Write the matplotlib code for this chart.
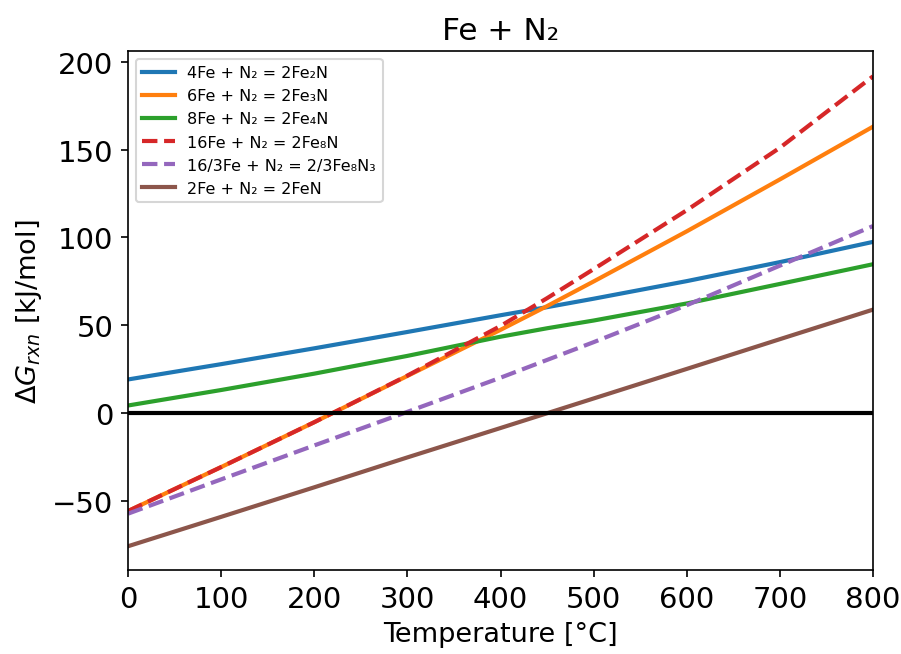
import matplotlib
matplotlib.use("Agg")
import matplotlib.pyplot as plt
import numpy as np

T = [0, 100, 200, 300, 400, 450, 500, 600, 700, 800]
fe2n = [19.3, 28.0, 37.0, 46.3, 55.8, 60.4, 65.2, 75.2, 86.0, 97.5]
fe3n = [-55.5, -30.5, -5.0, 21.3, 47.5, 61.0, 75.0, 103.5, 133.0, 163.0]
fe4n = [4.5, 13.3, 22.6, 32.7, 43.6, 48.4, 52.8, 62.5, 73.6, 84.8]
fe8n = [-55.5, -30.5, -5.0, 21.5, 49.7, 65.5, 82.0, 115.5, 151.0, 191.6]
fe8n3 = [-57.0, -37.5, -18.2, 0.9, 20.3, 30.4, 40.5, 61.5, 84.0, 106.5]
fen = [-75.5, -58.8, -42.0, -25.0, -8.3, 0.1, 8.5, 25.3, 42.2, 59.0]

labels = ["4Fe + N₂ = 2Fe₂N", "6Fe + N₂ = 2Fe₃N", "8Fe + N₂ = 2Fe₄N",
          "16Fe + N₂ = 2Fe₈N", "16/3Fe + N₂ = 2/3Fe₈N₃", "2Fe + N₂ = 2FeN"]

fig = plt.figure(figsize=(901/150, 655/150), dpi=150)
ax = fig.add_axes([128/901, 1-571/655, (873-128)/901, (571-52)/655])

ax.plot(T, fe2n, color="#1f77b4", lw=2, label=labels[0])
ax.plot(T, fe3n, color="#ff7f0e", lw=2, label=labels[1])
ax.plot(T, fe4n, color="#2ca02c", lw=2, label=labels[2])
ax.plot(T, fe8n, color="#d62728", lw=2, ls="--", label=labels[3])
ax.plot(T, fe8n3, color="#9467bd", lw=2, ls="--", label=labels[4])
ax.plot(T, fen, color="#8c564b", lw=2, label=labels[5])
ax.axhline(0, color="black", lw=2)

ax.set_xlim(0, 800)
ax.set_ylim(-89, 206)
ax.set_xticks(range(0, 801, 100))
ax.set_yticks([-50, 0, 50, 100, 150, 200])
ax.tick_params(labelsize=14)
ax.set_xlabel("Temperature [°C]", fontsize=13)
ax.set_ylabel(r"$\Delta G_{rxn}$ [kJ/mol]", fontsize=13)
ax.set_title("Fe + N₂", fontsize=15)
ax.legend(loc="upper left", fontsize=7.7)

fig.savefig("out.png", dpi=150)
